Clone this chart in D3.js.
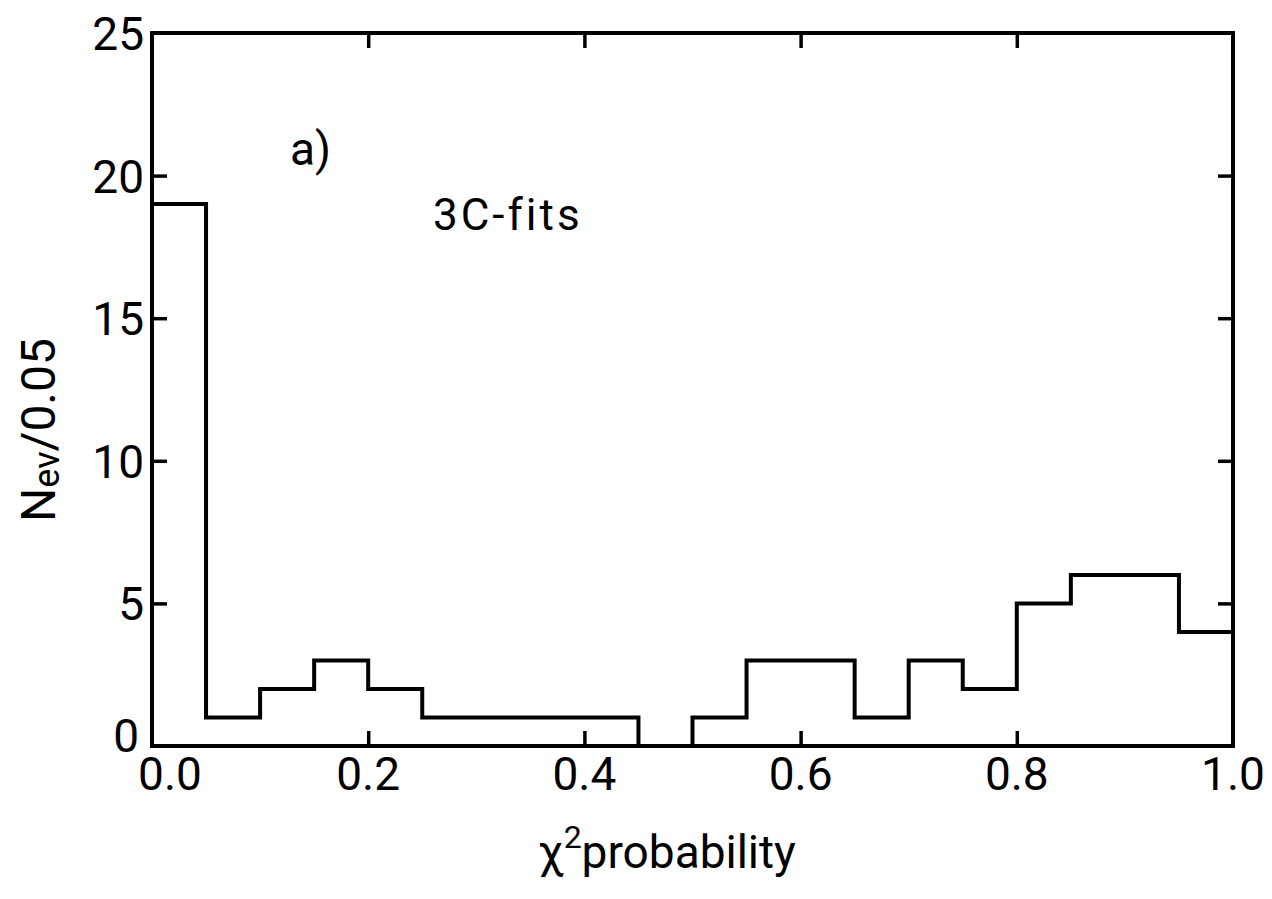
<!DOCTYPE html>
<html>
<head>
<meta charset="utf-8">
<script src="https://cdn.jsdelivr.net/npm/d3@7"></script>
<style>
  html, body { margin: 0; padding: 0; background: #fff; }
  svg text { font-family: Roboto, "Liberation Sans", sans-serif; fill: #000; }
</style>
</head>
<body>
<svg id="chart"></svg>
<script>
// histogram of chi2 probability, bins of 0.05
const binStarts = [0.00, 0.05, 0.10, 0.15, 0.20, 0.25, 0.30, 0.35, 0.40, 0.45,
                   0.50, 0.55, 0.60, 0.65, 0.70, 0.75, 0.80, 0.85, 0.90, 0.95];
const counts = [19, 1, 2, 3, 2, 1, 1, 1, 1, 0,
                1, 3, 3, 1, 3, 2, 5, 6, 6, 4];
const binWidth = 0.05;

const xTicks = [0.0, 0.2, 0.4, 0.6, 0.8, 1.0];
const xTickLabels = ['0.0', '0.2', '0.4', '0.6', '0.8', '1.0'];
const yTicks = [0, 5, 10, 15, 20, 25];
const yTickLabels = ['0', '5', '10', '15', '20', '25'];

const width = 1272;
const height = 899;
const plot = { left: 152, right: 1233, top: 33, bottom: 746 };

const svg = d3.select('#chart')
  .attr('width', width)
  .attr('height', height);

const x = d3.scaleLinear().domain([0, 1]).range([plot.left, plot.right]);
const y = d3.scaleLinear().domain([0, 25]).range([plot.bottom, plot.top]);

// inner ticks on all four sides (no labels here, drawn below)
const tickLen = 15;
const innerX = xTicks.slice(1, -1);
const innerY = yTicks.slice(1, -1);

function styleAxis(g) {
  g.select('.domain').remove();
  g.selectAll('.tick line').attr('stroke', '#000').attr('stroke-width', 3.5);
}

svg.append('g')
  .attr('transform', `translate(0,${plot.bottom})`)
  .call(d3.axisBottom(x).tickValues(innerX).tickSize(-tickLen).tickFormat(''))
  .call(styleAxis);
svg.append('g')
  .attr('transform', `translate(0,${plot.top})`)
  .call(d3.axisTop(x).tickValues(innerX).tickSize(-tickLen).tickFormat(''))
  .call(styleAxis);
svg.append('g')
  .attr('transform', `translate(${plot.left},0)`)
  .call(d3.axisLeft(y).tickValues(innerY).tickSize(-tickLen).tickFormat(''))
  .call(styleAxis);
svg.append('g')
  .attr('transform', `translate(${plot.right},0)`)
  .call(d3.axisRight(y).tickValues(innerY).tickSize(-tickLen).tickFormat(''))
  .call(styleAxis);

// frame
svg.append('rect')
  .attr('x', x(0))
  .attr('y', y(25))
  .attr('width', x(1) - x(0))
  .attr('height', y(0) - y(25))
  .attr('fill', 'none')
  .attr('stroke', '#000')
  .attr('stroke-width', 4);

// histogram outline as a step line
const stepPoints = binStarts.map((b, i) => [b, counts[i]]);
stepPoints.push([binStarts[binStarts.length - 1] + binWidth, counts[counts.length - 1]]);

const stepLine = d3.line()
  .x(d => x(d[0]))
  .y(d => y(d[1]))
  .curve(d3.curveStepAfter);

svg.append('path')
  .datum(stepPoints)
  .attr('d', stepLine)
  .attr('fill', 'none')
  .attr('stroke', '#000')
  .attr('stroke-width', 4)
  .attr('stroke-linejoin', 'miter');

// tick labels
// first labels of both axes are nudged apart, as in the original
svg.append('g')
  .selectAll('text')
  .data(xTicks)
  .enter()
  .append('text')
  .attr('x', (d, i) => x(d) + (i === 0 ? 18 : 0))
  .attr('y', 790)
  .attr('text-anchor', 'middle')
  .attr('font-size', 46)
  .text((d, i) => xTickLabels[i]);

svg.append('g')
  .selectAll('text')
  .data(yTicks)
  .enter()
  .append('text')
  .attr('x', (d, i) => (i === 0 ? 139 : 144))
  .attr('y', (d, i) => y(d) + 17 - (i === 0 ? 11 : 0))
  .attr('text-anchor', 'end')
  .attr('font-size', 46)
  .text((d, i) => yTickLabels[i]);

// axis titles
const xTitle = svg.append('text')
  .attr('x', 667)
  .attr('y', 868)
  .attr('text-anchor', 'middle')
  .attr('font-size', 46);
xTitle.append('tspan').text('χ');
xTitle.append('tspan').attr('font-size', 32).attr('dy', -20).text('2');
xTitle.append('tspan').attr('dy', 20).text('probability');

const yTitle = svg.append('text')
  .attr('transform', 'translate(55,430) rotate(-90)')
  .attr('text-anchor', 'middle')
  .attr('font-size', 48);
yTitle.append('tspan').text('N');
yTitle.append('tspan').attr('font-size', 36).attr('dy', 4).text('ev');
yTitle.append('tspan').attr('dy', -4).text('/0.05');

// annotations
svg.append('text')
  .attr('x', 290)
  .attr('y', 165)
  .attr('font-size', 46)
  .text('a)');

svg.append('text')
  .attr('x', 433)
  .attr('y', 230)
  .attr('font-size', 44)
  .attr('letter-spacing', 3)
  .text('3C-fits');
</script>
</body>
</html>
